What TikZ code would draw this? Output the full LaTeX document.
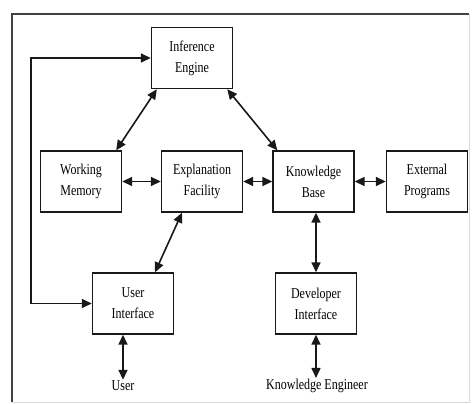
\documentclass[tikz,border=0pt]{standalone}
\usepackage{fontspec}
\usetikzlibrary{arrows.meta}
\newfontfamily\blockfont[FakeStretch=0.8]{Liberation Serif}
\begin{document}
\begin{tikzpicture}[x=1pt,y=-1pt,
  block/.style={draw=black!90, line width=1.4pt, fill=white,
    minimum width=81pt, minimum height=61pt, inner sep=2pt,
    align=center, font=\blockfont\fontsize{15}{21}\selectfont},
  lbl/.style={inner sep=1pt, font=\blockfont\fontsize{15}{21}\selectfont},
  link/.style={draw=black!90, line width=1.6pt,
    {Triangle[length=10pt,width=9pt]}-{Triangle[length=10pt,width=9pt]}}]
  % canvas and frame
  \useasboundingbox (0,0) rectangle (472,404);
  \fill[white] (0,0) rectangle (472,404);
  \draw[black!75, line width=1.4pt] (469,14) -- (12,14) -- (12,402);
  \draw[black!15, line width=1pt] (469,14) -- (469,402) -- (12,402);

  % components
  \node[block] (ie) at (192,58)    {Inference\\Engine};
  \node[block] (wm) at (81,181.5)  {Working\\Memory};
  \node[block] (ef) at (202,181.5) {Explanation\\Facility};
  \node[block] (kb) at (313.5,181.5) {Knowledge\\Base};
  \node[block] (ep) at (427,181.5) {External\\Programs};
  \node[block] (ui) at (133,303.5) {User\\Interface};
  \node[block] (di) at (316,303.5) {Developer\\Interface};
  \node[lbl] (user) at (123,386) {User};
  \node[lbl] (ke)   at (317,386) {Knowledge Engineer};
  \coordinate (loop) at (31,180);

  % connections
  \draw[link] ([xshift=6pt]ie.south west) -- ([xshift=-6pt]wm.north east);
  \draw[link] ([xshift=-6pt]ie.south east) -- ([xshift=5pt]kb.north west);
  \draw[link] (wm.east) -- (ef.west);
  \draw[link] (ef.east) -- (kb.west);
  \draw[link] (kb.east) -- (ep.west);
  \draw[link] ([xshift=-20pt]ef.south) -- ([xshift=22pt]ui.north);
  \draw[link] (di.north |- kb.south) -- (di.north);
  \draw[link] (user.north |- ui.south) -- (user.north);
  \draw[link] (di.south) -- (ke.north -| di.south);
  \draw[link] (ie.west) -- (ie.west -| loop) -- (ui.west -| loop) -- (ui.west);
\end{tikzpicture}
\end{document}
